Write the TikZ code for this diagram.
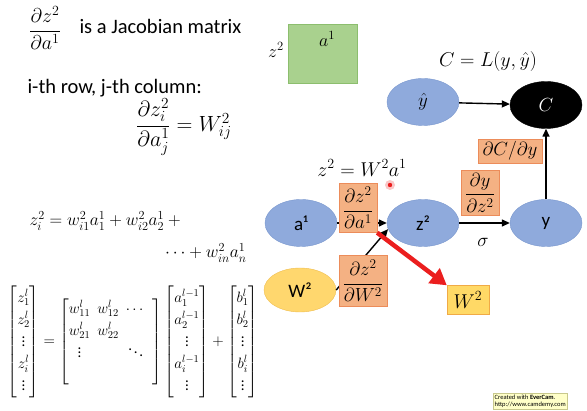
\RequirePackage{fix-cm}
\documentclass[tikz,border=0pt]{standalone}
\usepackage{amsmath}
\usepackage{fontspec}
\setmainfont{Carlito}
\usepackage{tikz}
\usetikzlibrary{
    arrows.meta,
    shapes.geometric,
    positioning
}

\definecolor{nodeblue}{RGB}{143,170,220}
\definecolor{nodeblueline}{RGB}{120,150,205}
\definecolor{nodegold}{RGB}{255,215,110}
\definecolor{nodegoldline}{RGB}{240,190,80}
\definecolor{gradfill}{RGB}{244,177,131}
\definecolor{gradline}{RGB}{236,140,90}
\definecolor{wboxfill}{RGB}{255,217,102}
\definecolor{wboxline}{RGB}{240,170,70}
\definecolor{greenfill}{RGB}{169,209,142}
\definecolor{greenline}{RGB}{140,190,110}
\definecolor{pointerred}{RGB}{235,30,30}

\tikzset{
    neuron/.style={ellipse, draw=nodeblueline, fill=nodeblue, minimum width=72pt,
        minimum height=47pt, inner sep=0pt, font=\fontsize{19}{22}\selectfont},
    gradbox/.style={draw=gradline, fill=gradfill, inner sep=2pt,
        font=\fontsize{19}{22}\selectfont},
    flow/.style={-{Triangle[length=8pt,width=7pt]}, line width=1.4pt}
}

\begin{document}
\begin{tikzpicture}[x=1pt, y=-1pt]
    \useasboundingbox (0,0) rectangle (587,411);
    \node (jac) at (45,28) {\fontsize{20}{24}\selectfont $\dfrac{\partial z^2}{\partial a^1}$};
    \node[anchor=west] (jactext) at (76,26) {\fontsize{20.5}{24}\selectfont is a Jacobian matrix};
    \node[anchor=west] (rowcol) at (24,88) {\fontsize{20.5}{24}\selectfont i-th row, j-th column:};
    \node (elem) at (184,127) {\fontsize{22}{26}\selectfont $\dfrac{\partial z_i^2}{\partial a_j^1} = W_{ij}^2$};
    \node[anchor=west] (sum1) at (26,221) {\fontsize{17.5}{20}\selectfont $z_i^2 = w_{i1}^2 a_1^1 + w_{i2}^2 a_2^1 +{}$};
    \node[anchor=east] (sum2) at (250,253) {\fontsize{17.5}{20}\selectfont $\cdots + w_{in}^2 a_n^1$};
    \node (mateq) at (133,342) {\fontsize{15}{20}\selectfont
        $\renewcommand{\arraystretch}{1.1}\setlength{\arraycolsep}{3.5pt}
        \begin{bmatrix} z_1^l\\ z_2^l\\ \vdots\\ z_i^l\\ \vdots \end{bmatrix}
        = \begin{bmatrix} w_{11}^l & w_{12}^l & \cdots & \\ w_{21}^l & w_{22}^l & & \\
            \vdots & & \ddots & \\ & & & \end{bmatrix}
        \begin{bmatrix} a_1^{l-1}\\ a_2^{l-1}\\ \vdots\\ a_i^{l-1}\\ \vdots \end{bmatrix}
        + \begin{bmatrix} b_1^l\\ b_2^l\\ \vdots\\ b_i^l\\ \vdots \end{bmatrix}$};

    \node[draw=greenline, fill=greenfill, minimum width=69pt, minimum height=59pt] (block) at (323,54) {};
    \node (blocktop) at (327,39) {\fontsize{18}{20}\selectfont $a^1$};
    \node (blockleft) at (276,50) {\fontsize{18}{20}\selectfont $z^2$};

    \node (loss) at (488,62) {\fontsize{20}{22}\selectfont $C = L(y,\hat{y})$};
    \node[neuron] (yhat) at (423,102) {$\hat{y}$};
    \node[neuron, fill=black, draw=black, text=white] (cost) at (546,105) {$C$};
    \node (zeq) at (362,168) {\fontsize{20}{22}\selectfont $z^2 = W^2 a^1$};

    \node[neuron] (a1) at (301,223) {a¹};
    \node[neuron] (z2) at (423,223) {z²};
    \node[neuron] (y) at (546,223) {y};
    \node[neuron, fill=nodegold, draw=nodegoldline, minimum height=44pt] (w2) at (300,290) {W²};
    \node (sigma) at (483,242) {\fontsize{19}{20}\selectfont $\sigma$};

    \draw[flow] (yhat) -- (cost);
    \draw[flow] (a1) -- (z2);
    \draw[flow] (z2) -- (y);
    \draw[flow] (y) -- (cost);
    \draw[flow] (w2.east) -- (z2.190);

    \node[gradbox, minimum width=38pt, minimum height=49pt] (da1) at (358,208) {$\dfrac{\partial z^2}{\partial a^1}$};
    \node[gradbox, minimum width=38pt, minimum height=45pt] (dz2) at (480,193) {$\dfrac{\partial y}{\partial z^2}$};
    \node[gradbox, minimum width=48pt, minimum height=51pt] (dw2) at (363,281) {$\dfrac{\partial z^2}{\partial W^2}$};
    \node[gradbox, minimum width=64pt, minimum height=24pt] (dcy) at (510,151) {$\partial C/\partial y$};
    \node[draw=wboxline, fill=wboxfill, minimum width=42pt, minimum height=29pt, inner sep=1pt,
        font=\fontsize{20}{22}\selectfont] (wbox) at (468,300) {$W^2$};

    \draw[pointerred, line width=4.5pt, -{Triangle[length=16pt,width=18pt]}] (da1.south east) -- (wbox.north west);

    \fill[pointerred!25] (390,185) circle (5pt);
    \fill[pointerred] (390,185) circle (2.2pt);

    \node[draw={rgb,255:red,200;green,200;blue,140}, fill={rgb,255:red,255;green,255;blue,200}, anchor=north west,
        inner sep=1.5pt, align=left, font=\fontsize{6.5}{7.5}\selectfont] (evercam) at (493,393)
        {Created with \textbf{EverCam}.\\http://www.camdemy.com};
\end{tikzpicture}
\end{document}
